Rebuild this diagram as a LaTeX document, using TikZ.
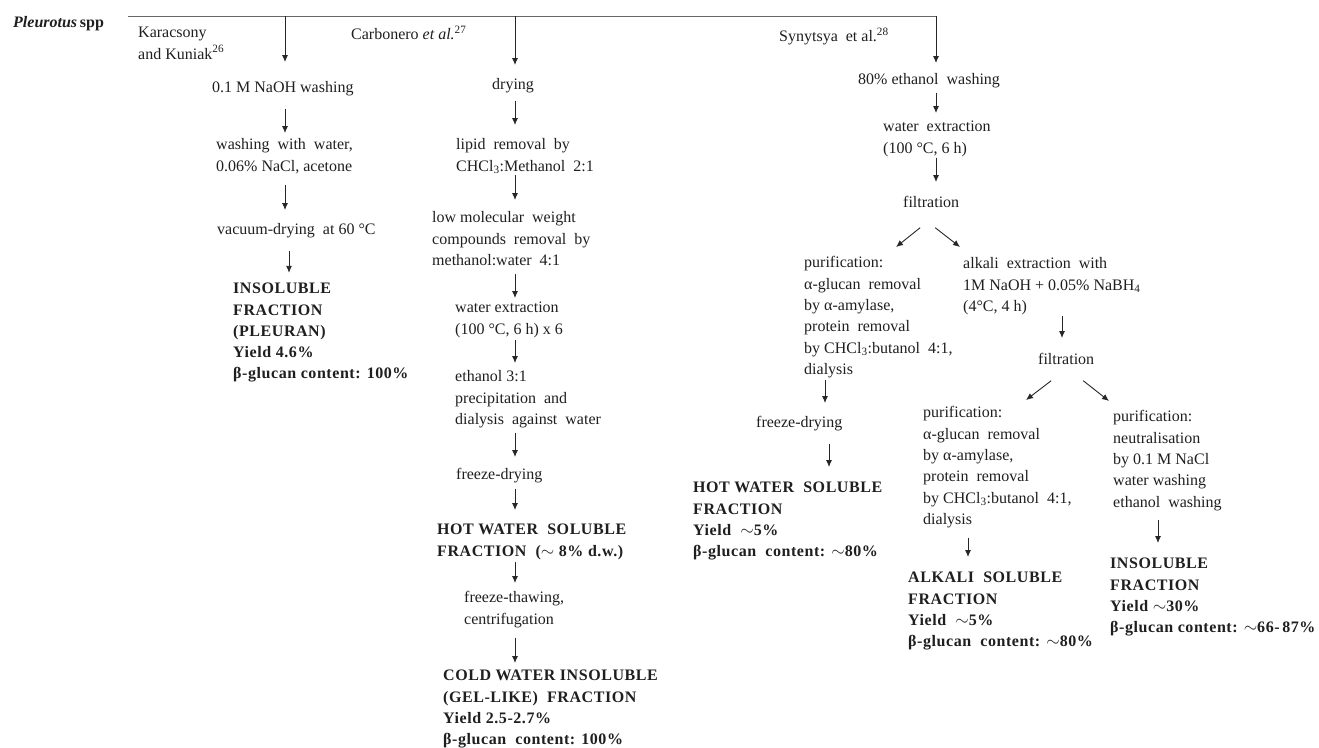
\documentclass[tikz,border=0pt]{standalone}
\usepackage{fontspec}
\setmainfont{Liberation Serif}
\newfontfamily\bff{Liberation Serif}[LetterSpace=3.5]
\usetikzlibrary{arrows.meta}
\newcommand\fs{\fontsize{16}{21.3}\selectfont}
\begin{document}
\begin{tikzpicture}[x=1pt,y=-1pt,
  txt/.style={anchor=north west, inner sep=0pt, align=left, font=\fs, text=black!88},
  btxt/.style={txt, font=\fs\bff\bfseries},
  arr/.style={-{Latex[length=7pt,width=6pt]}, line width=0.9pt, draw=black!85},
  topline/.style={line width=1pt, draw=black!60}]
\useasboundingbox (0,0) rectangle (1319,747);

% header
\node[txt] (title) at (13,12.8) {\strut\textbf{\textit{Pleurotus}}\,\textbf{spp}\strut};
\coordinate (L0) at (128,16);
\coordinate (L1) at (936.5,16);
\draw[topline] (L0) -- (L1);
\node[txt] (ref1) at (138,22.8) {\strut Karacsony\\and Kuniak\textsuperscript{26}\strut};
\node[txt] (ref2) at (351,24.8) {\strut Carbonero \textit{et al.}\textsuperscript{27}\strut};
\node[txt] (ref3) at (779,26.8) {\strut Synytsya\ \ et al.\textsuperscript{28}\strut};

% arrow x positions
\coordinate (xa) at (285,0);
\coordinate (xb) at (289,0);
\coordinate (xc) at (515,0);
\coordinate (xd) at (936,0);
\coordinate (xe) at (825,0);
\coordinate (xf) at (829,0);
\coordinate (xg) at (1062,0);
\coordinate (xh) at (968,0);
\coordinate (xi) at (1158,0);

% column 1
\node[txt] (k1) at (212,77.8) {\strut 0.1 M NaOH washing\strut};
\node[txt] (k2) at (216,134.8) {\strut washing\ \ with\ \ water,\\0.06\% NaCl, acetone\strut};
\node[txt] (k3) at (217,219.8) {\strut vacuum-drying\ \ at 60 °C\strut};
\node[btxt] (k4) at (233,278.6) {\strut INSOLUBLE\\FRACTION\\(PLEURAN)\\Yield 4.6\%\\β-glucan content: 100\%\strut};

\draw[arr, shorten >=15.8pt] (L0 -| xa) -- (k1.north -| xa);
\draw[arr, shorten <=9.2pt, shorten >=1.8pt] (k1.south -| xa) -- (k2.north -| xa);
\draw[arr, shorten <=7.2pt, shorten >=9.8pt] (k2.south -| xa) -- (k3.north -| xa);
\draw[arr, shorten <=9.2pt, shorten >=5.8pt] (k3.south -| xb) -- (k4.north -| xb);

% column 2
\node[txt] (c1) at (492,74.8) {\strut drying\strut};
\node[txt] (c2) at (456,134.8) {\strut lipid\ \ removal\ \ by\\CHCl\textsubscript{3}:Methanol\ \ 2:1\strut};
\node[txt] (c3) at (432,207.8) {\strut low molecular\ \ weight\\compounds\ \ removal\ \ by\\methanol:water\ \ 4:1\strut};
\node[txt] (c4) at (455,297.8) {\strut water extraction\\(100 °C, 6 h) x 6\strut};
\node[txt] (c5) at (455,366.8) {\strut ethanol 3:1\\precipitation\ \ and\\dialysis\ \ against\ \ water\strut};
\node[txt] (c6) at (456,464.8) {\strut freeze-drying\strut};
\node[btxt] (c7) at (437,519.6) {\strut HOT WATER\ \ SOLUBLE\\FRACTION\ \ (${\sim}$ 8\% d.w.)\strut};
\node[txt] (c8) at (464,587.8) {\strut freeze-thawing,\\centrifugation\strut};
\node[btxt] (c9) at (443,665.6) {\strut COLD WATER INSOLUBLE\\(GEL-LIKE)\ \ FRACTION\\Yield 2.5-2.7\%\\β-glucan\ \ content: 100\%\strut};

\draw[arr, shorten >=9.8pt] (L0 -| xc) -- (c1.north -| xc);
\draw[arr, shorten <=4.2pt, shorten >=9.8pt] (c1.south -| xc) -- (c2.north -| xc);
\draw[arr, shorten <=-2.8pt, shorten >=7.8pt] (c2.south -| xc) -- (c3.north -| xc);
\draw[arr, shorten <=1.6pt, shorten >=-0.2pt] (c3.south -| xc) -- (c4.north -| xc);
\draw[arr, shorten <=-1.1pt, shorten >=3.8pt] (c4.south -| xc) -- (c5.north -| xc);
\draw[arr, shorten <=1.6pt, shorten >=7.8pt] (c5.south -| xc) -- (c6.north -| xc);
\draw[arr, shorten <=2.2pt, shorten >=9.6pt] (c6.south -| xc) -- (c7.north -| xc);
\draw[arr, shorten <=-1.1pt, shorten >=4.8pt] (c7.south -| xc) -- (c8.north -| xc);
\draw[arr, shorten <=6.9pt, shorten >=2.6pt] (c8.south -| xc) -- (c9.north -| xc);

% column 3
\node[txt] (s1) at (858,69.8) {\strut 80\% ethanol\ \ washing\strut};
\node[txt] (s2) at (883,116.8) {\strut water\ \ extraction\\(100 °C, 6 h)\strut};
\node[txt] (s3) at (903,192.8) {\strut filtration\strut};
\node[txt] (s4) at (804,252.8) {\strut purification:\\α-glucan\ \ removal\\by α-amylase,\\protein\ \ removal\\by CHCl\textsubscript{3}:butanol\ \ 4:1,\\dialysis\strut};
\node[txt] (s5) at (963,253.8) {\strut alkali\ \ extraction\ \ with\\1M NaOH + 0.05\% NaBH\textsubscript{4}\\(4°C, 4 h)\strut};
\node[txt] (s6) at (756,412.8) {\strut freeze-drying\strut};
\node[btxt] (s7) at (693,477.6) {\strut HOT WATER\ \ SOLUBLE\\FRACTION\\Yield\ \ ${\sim}$5\%\\β-glucan\ \ content: ${\sim}$80\%\strut};
\node[txt] (s8) at (1038,349.8) {\strut filtration\strut};
\node[txt] (s9) at (923,402.8) {\strut purification:\\α-glucan\ \ removal\\by α-amylase,\\protein\ \ removal\\by CHCl\textsubscript{3}:butanol\ \ 4:1,\\dialysis\strut};
\node[txt] (s10) at (1113,406.8) {\strut purification:\\neutralisation\\by 0.1 M NaCl\\water washing\\ethanol\ \ washing\strut};
\node[btxt] (s11) at (908,567.6) {\strut ALKALI\ \ SOLUBLE\\FRACTION\\Yield\ \ ${\sim}$5\%\\β-glucan\ \ content: ${\sim}$80\%\strut};
\node[btxt] (s12) at (1110,553.6) {\strut INSOLUBLE\\FRACTION\\Yield ${\sim}$30\%\\β-glucan content: ${\sim}$66-\,87\%\strut};

\draw[arr, shorten >=6.8pt] (L1 -| xd) -- (s1.north -| xd);
\draw[arr, shorten <=1.2pt, shorten >=3.8pt] (s1.south -| xd) -- (s2.north -| xd);
\draw[arr, shorten <=-2.1pt, shorten >=10.8pt] (s2.south -| xd) -- (s3.north -| xd);
\draw[arr] ([xshift=-11pt,yshift=-13.2pt]s3.south) -- ([xshift=92pt,yshift=5.8pt]s4.north west);
\draw[arr] ([xshift=4pt,yshift=-13.2pt]s3.south) -- ([xshift=-3pt,yshift=6.8pt]s5.north west);
\draw[arr, shorten <=-1.3pt, shorten >=9.8pt] (s4.south -| xe) -- (s6.north -| xe);
\draw[arr, shorten <=9.2pt, shorten >=10.6pt] (s6.south -| xf) -- (s7.north -| xf);
\draw[arr, shorten <=-2.4pt, shorten >=11.8pt] (s5.south -| xg) -- (s8.north -| xg);
\draw[arr] ([xshift=-15pt,yshift=-9.2pt]s8.south) -- ([xshift=103pt,yshift=2.8pt]s9.north west);
\draw[arr] ([xshift=17pt,yshift=-9.2pt]s8.south) -- ([xshift=-4pt,yshift=5.8pt]s10.north west);
\draw[arr, shorten <=6.7pt, shorten >=10.6pt] (s9.south -| xh) -- (s11.north -| xh);
\draw[arr, shorten <=6pt, shorten >=10.6pt] (s10.south -| xi) -- (s12.north -| xi);
\end{tikzpicture}
\end{document}
